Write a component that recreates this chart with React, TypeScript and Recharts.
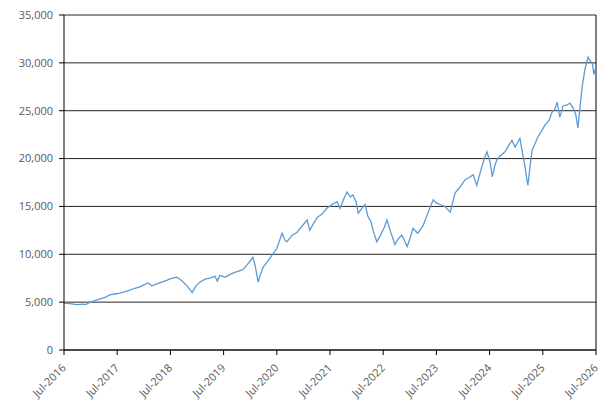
import { LineChart, Line, XAxis, YAxis, CartesianGrid, ReferenceLine } from 'recharts';

document.body.style.margin = '0';

// decimal years (Jul-2016 = 2016.5)
const years = [
  2016.5, 2016.61, 2016.74, 2016.86, 2016.91, 2016.99, 2017.08, 2017.18, 2017.27, 2017.36,
  2017.46, 2017.55, 2017.65, 2017.74, 2017.83, 2017.93, 2018.0, 2018.08, 2018.15, 2018.25,
  2018.34, 2018.44, 2018.53, 2018.62, 2018.68, 2018.74, 2018.81, 2018.91, 2018.98, 2019.06,
  2019.15, 2019.24, 2019.34, 2019.38, 2019.43, 2019.53, 2019.62, 2019.71, 2019.81, 2019.86,
  2019.94, 2020.0, 2020.05, 2020.09, 2020.15, 2020.2, 2020.24, 2020.32, 2020.41, 2020.5,
  2020.6, 2020.65, 2020.69, 2020.79, 2020.88, 2020.97, 2021.07, 2021.12, 2021.2, 2021.27,
  2021.35, 2021.44, 2021.54, 2021.63, 2021.69, 2021.76, 2021.82, 2021.88, 2021.93, 2021.99,
  2022.03, 2022.1, 2022.16, 2022.21, 2022.27, 2022.31, 2022.38, 2022.44, 2022.52, 2022.57,
  2022.63, 2022.68, 2022.72, 2022.78, 2022.85, 2022.91, 2022.95, 2023.0, 2023.06, 2023.15,
  2023.25, 2023.34, 2023.44, 2023.49, 2023.57, 2023.66, 2023.76, 2023.85, 2023.94, 2024.04,
  2024.11, 2024.19, 2024.26, 2024.34, 2024.39, 2024.45, 2024.51, 2024.55, 2024.6, 2024.64,
  2024.7, 2024.79, 2024.85, 2024.92, 2024.98, 2025.03, 2025.07, 2025.13, 2025.17, 2025.2,
  2025.22, 2025.26, 2025.3, 2025.35, 2025.41, 2025.47, 2025.54, 2025.62, 2025.67, 2025.73,
  2025.77, 2025.82, 2025.88, 2025.96, 2026.01, 2026.07, 2026.12, 2026.16, 2026.2, 2026.24,
  2026.29, 2026.35, 2026.39, 2026.43, 2026.46, 2026.48, 2026.5,
];

const values = [
  4900, 4850, 4750, 4800, 4750, 5000, 5150, 5350, 5500, 5750,
  5850, 5950, 6100, 6250, 6450, 6600, 6800, 7000, 6700, 6900,
  7100, 7300, 7500, 7600, 7400, 7100, 6700, 6000, 6700, 7100,
  7400, 7500, 7700, 7200, 7800, 7600, 7900, 8100, 8300, 8400,
  8900, 9300, 9700, 8900, 7100, 8000, 8600, 9200, 9900, 10600,
  12200, 11500, 11300, 12000, 12300, 12900, 13600, 12500, 13300, 13900,
  14200, 14800, 15200, 15500, 14800, 15800, 16500, 16000, 16200, 15500,
  14300, 14800, 15200, 14000, 13400, 12500, 11300, 11900, 12800, 13600,
  12500, 11700, 11000, 11600, 12000, 11300, 10800, 11600, 12700, 12200,
  13000, 14300, 15700, 15400, 15200, 15000, 14400, 16400, 17000, 17800,
  18000, 18300, 17200, 18900, 19800, 20700, 19600, 18100, 19300, 19900,
  20300, 20700, 21300, 21900, 21200, 21700, 22100, 20200, 19000, 17800,
  17200, 19200, 20900, 21500, 22300, 22800, 23500, 24000, 24800, 25200,
  25900, 24300, 25500, 25600, 25800, 25300, 24600, 23200, 25400, 27500,
  29300, 30600, 30200, 30000, 28800, 29300, 28400,
];

const tickYears = [2016, 2017, 2018, 2019, 2020, 2021, 2022, 2023, 2024, 2025, 2026];
const yTicks = [0, 5000, 10000, 15000, 20000, 25000, 30000, 35000];

const data = years.map((t, i) => ({ t, v: values[i] }));

const labelFont = '"Open Sans", sans-serif';

function XTick({ x, y, payload }: any) {
  return (
    <g transform={`translate(${x - 3},${y + 6})`}>
      <text
        x={0}
        y={8}
        textAnchor="end"
        transform="rotate(-45)"
        fontSize={11}
        fontFamily={labelFont}
        fill="#595959"
      >
        {`Jul-${Math.floor(payload.value)}`}
      </text>
    </g>
  );
}

export default function App() {
  return (
    <LineChart
      width={607}
      height={413}
      data={data}
      margin={{ top: 15, right: 11, left: 0, bottom: 0 }}
    >
      <CartesianGrid vertical={false} stroke="#262626" strokeWidth={1} />
      <XAxis
        dataKey="t"
        type="number"
        domain={[2016.5, 2026.5]}
        ticks={tickYears.map((y) => y + 0.5)}
        tick={<XTick />}
        height={63}
        interval={0}
        stroke="#000"
        tickLine={{ stroke: '#000' }}
        tickSize={5}
      />
      <YAxis
        domain={[0, 35000]}
        ticks={yTicks}
        width={64}
        interval={0}
        stroke="#000"
        tickSize={5}
        tickMargin={6}
        tickFormatter={(v: number) => v.toLocaleString('en-US')}
        tick={{ fontSize: 11, fontFamily: labelFont, fill: '#595959' }}
      />
      <ReferenceLine x={2026.5} stroke="#000" />
      <Line
        type="linear"
        dataKey="v"
        stroke="#5b9bd5"
        strokeWidth={1.3}
        dot={false}
        isAnimationActive={false}
      />
    </LineChart>
  );
}
